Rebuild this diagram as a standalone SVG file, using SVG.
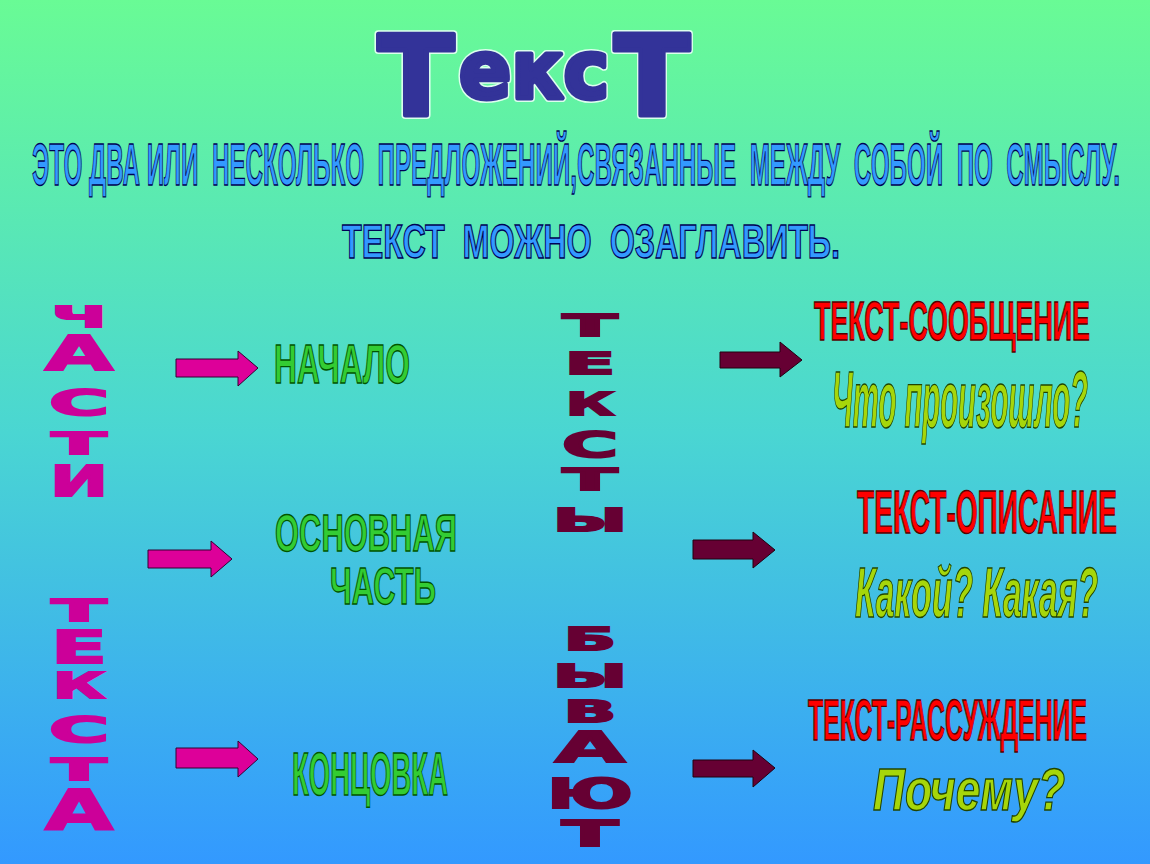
<svg xmlns="http://www.w3.org/2000/svg" width="1150" height="864" viewBox="0 0 1150 864">
<defs>
<linearGradient id="bg" x1="0" y1="0" x2="0" y2="1">
<stop offset="0" stop-color="#69FB95"/>
<stop offset="0.5" stop-color="#4AD6D2"/>
<stop offset="1" stop-color="#3399FF"/>
</linearGradient>
<style>
text{font-family:"Liberation Sans",Arial,sans-serif;font-weight:bold}
.title{font-family:"DejaVu Sans",sans-serif;font-weight:bold;fill:#333399;stroke:#333399;stroke-width:5;stroke-linejoin:round}
.titleo{font-family:"DejaVu Sans",sans-serif;font-weight:bold;fill:none;stroke:#DDFFEE;stroke-width:8;stroke-linejoin:round}
.blue{fill:#3399FF;stroke:#000055;stroke-width:1.4}
.green{fill:#33CC33;stroke:#005500;stroke-width:1.4}
.red{fill:#FF0000;stroke:#550000;stroke-width:1.4}
.yg{fill:#A6D60A;stroke:#224400;stroke-width:1.4;font-style:italic}
.vm{font-family:"DejaVu Sans",sans-serif;font-weight:bold;fill:#CC0099;stroke:#CC0099;stroke-width:2;text-anchor:middle}
.vr{font-family:"DejaVu Sans",sans-serif;font-weight:bold;fill:#660033;stroke:#660033;stroke-width:2;text-anchor:middle}
.am{fill:#DD0099;stroke:#330033;stroke-width:1}
.ar{fill:#660033;stroke:#220011;stroke-width:1}
</style>
</defs>
<rect width="1150" height="864" fill="url(#bg)"/>

<g id="title">
<text class="titleo"><tspan x="378" y="115" font-size="110" textLength="76" lengthAdjust="spacingAndGlyphs">Т</tspan><tspan x="459" y="98" font-size="80" textLength="150" lengthAdjust="spacingAndGlyphs">екс</tspan><tspan x="614" y="115" font-size="148" textLength="76" lengthAdjust="spacingAndGlyphs">т</tspan></text>
<text class="title"><tspan x="378" y="115" font-size="110" textLength="76" lengthAdjust="spacingAndGlyphs">Т</tspan><tspan x="459" y="98" font-size="80" textLength="150" lengthAdjust="spacingAndGlyphs">екс</tspan><tspan x="614" y="115" font-size="148" textLength="76" lengthAdjust="spacingAndGlyphs">т</tspan></text>
</g>

<g id="definition">
<text class="blue" xml:space="preserve" x="32" y="185" font-size="59" textLength="1088" lengthAdjust="spacingAndGlyphs">ЭТО ДВА ИЛИ  НЕСКОЛЬКО  ПРЕДЛОЖЕНИЙ,СВЯЗАННЫЕ  МЕЖДУ  СОБОЙ  ПО  СМЫСЛУ.</text>
<text class="blue" xml:space="preserve" x="342" y="258" font-size="49" textLength="498" lengthAdjust="spacingAndGlyphs">ТЕКСТ  МОЖНО  ОЗАГЛАВИТЬ.</text>
</g>

<g id="chasti-teksta">
<text class="vm" x="79" y="327" font-size="28" textLength="54" lengthAdjust="spacingAndGlyphs">Ч</text>
<text class="vm" x="79" y="370" font-size="48" textLength="68" lengthAdjust="spacingAndGlyphs">А</text>
<text class="vm" x="79" y="415" font-size="36" textLength="60" lengthAdjust="spacingAndGlyphs">С</text>
<text class="vm" x="79" y="454" font-size="30" textLength="54" lengthAdjust="spacingAndGlyphs">Т</text>
<text class="vm" x="79" y="496" font-size="42" textLength="58" lengthAdjust="spacingAndGlyphs">И</text>
<text class="vm" x="79" y="621" font-size="30" textLength="54" lengthAdjust="spacingAndGlyphs">Т</text>
<text class="vm" x="79" y="663" font-size="44" textLength="56" lengthAdjust="spacingAndGlyphs">Е</text>
<text class="vm" x="79" y="698" font-size="35" textLength="52" lengthAdjust="spacingAndGlyphs">К</text>
<text class="vm" x="79" y="742" font-size="36" textLength="60" lengthAdjust="spacingAndGlyphs">С</text>
<text class="vm" x="79" y="780" font-size="30" textLength="54" lengthAdjust="spacingAndGlyphs">Т</text>
<text class="vm" x="79" y="829" font-size="56" textLength="68" lengthAdjust="spacingAndGlyphs">А</text>
</g>

<g id="nachalo">
<text class="green" x="274" y="383" font-size="56" textLength="136" lengthAdjust="spacingAndGlyphs">НАЧАЛО</text>
</g>
<g id="osnovnaya-chast">
<text class="green" x="275" y="551" font-size="52" textLength="182" lengthAdjust="spacingAndGlyphs">ОСНОВНАЯ</text>
<text class="green" x="330" y="604" font-size="52" textLength="106" lengthAdjust="spacingAndGlyphs">ЧАСТЬ</text>
</g>
<g id="kontsovka">
<text class="green" x="292" y="795" font-size="62" textLength="156" lengthAdjust="spacingAndGlyphs">КОНЦОВКА</text>
</g>

<g id="teksty-byvayut">
<text class="vr" x="590" y="336" font-size="30" textLength="54" lengthAdjust="spacingAndGlyphs">Т</text>
<text class="vr" x="590" y="374" font-size="31" textLength="50" lengthAdjust="spacingAndGlyphs">Е</text>
<text class="vr" x="590" y="415" font-size="32" textLength="48" lengthAdjust="spacingAndGlyphs">К</text>
<text class="vr" x="590" y="457" font-size="36" textLength="56" lengthAdjust="spacingAndGlyphs">С</text>
<text class="vr" x="590" y="490" font-size="30" textLength="54" lengthAdjust="spacingAndGlyphs">Т</text>
<text class="vr" x="590" y="531" font-size="32" textLength="74" lengthAdjust="spacingAndGlyphs">Ы</text>
<text class="vr" x="590" y="650" font-size="32" textLength="52" lengthAdjust="spacingAndGlyphs">Б</text>
<text class="vr" x="590" y="687" font-size="32" textLength="74" lengthAdjust="spacingAndGlyphs">Ы</text>
<text class="vr" x="590" y="722" font-size="30" textLength="52" lengthAdjust="spacingAndGlyphs">В</text>
<text class="vr" x="590" y="762" font-size="43" textLength="70" lengthAdjust="spacingAndGlyphs">А</text>
<text class="vr" x="590" y="808" font-size="41" textLength="86" lengthAdjust="spacingAndGlyphs">Ю</text>
<text class="vr" x="590" y="846" font-size="36" textLength="56" lengthAdjust="spacingAndGlyphs">Т</text>
</g>

<g id="soobshchenie">
<text class="red" x="814" y="340" font-size="56" textLength="276" lengthAdjust="spacingAndGlyphs">ТЕКСТ-СООБЩЕНИЕ</text>
<text class="yg" x="832" y="427" font-size="80" textLength="256" lengthAdjust="spacingAndGlyphs">Что произошло?</text>
</g>
<g id="opisanie">
<text class="red" x="857" y="533" font-size="62" textLength="260" lengthAdjust="spacingAndGlyphs">ТЕКСТ-ОПИСАНИЕ</text>
<text class="yg" x="855" y="617" font-size="70" textLength="243" lengthAdjust="spacingAndGlyphs">Какой? Какая?</text>
</g>
<g id="rassuzhdenie">
<text class="red" x="808" y="740" font-size="58" textLength="279" lengthAdjust="spacingAndGlyphs">ТЕКСТ-РАССУЖДЕНИЕ</text>
<text class="yg" x="873" y="810" font-size="60" textLength="192" lengthAdjust="spacingAndGlyphs">Почему?</text>
</g>

<g id="connectors">
<path class="am" d="M176,359 H238 V351 L258,368 L238,386 V377 H176 Z"/>
<path class="am" d="M148,550 H211 V541 L232,559 L211,577 V568 H148 Z"/>
<path class="am" d="M176,748 H238 V741 L258,759 L238,777 V768 H176 Z"/>
<path class="ar" d="M720,352 H780 V342 L802,360 L780,377 V368 H720 Z"/>
<path class="ar" d="M693,540 H753 V532 L775,550 L753,568 V559 H693 Z"/>
<path class="ar" d="M693,760 H753 V750 L775,768 L753,787 V777 H693 Z"/>
</g>
</svg>
